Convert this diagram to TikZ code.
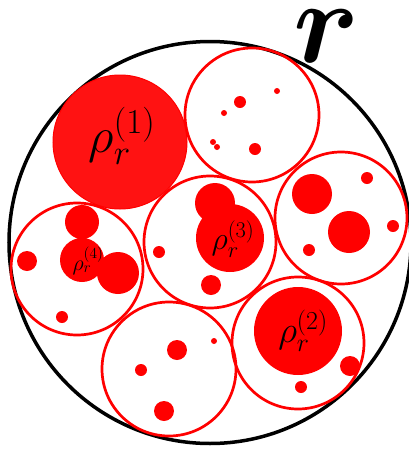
\RequirePackage{fix-cm}
\documentclass[tikz,border=0pt]{standalone}
\usepackage{amsmath,bm}
\tikzset{
  outer/.style={draw=black, line width=3.5pt},
  cell/.style={draw=red, line width=2.7pt},
  blob/.style={fill=red},
  bigblob/.style={fill=red!93, draw=red, line width=1pt},
  rholab/.style={inner sep=0pt, text=black},
}
\begin{document}
\begin{tikzpicture}[x=1pt, y=-1pt]
  \useasboundingbox (0,0) rectangle (409,451);
  % the whole region r
  \draw[outer] (210,242.5) circle (201);
  \node[rholab, font=\fontsize{118}{118}\selectfont] (rlab) at (327,36) {$\bm{r}$};

  % big filled ball
  \draw[bigblob] (120,142) circle (67);
  \node[rholab, font=\fontsize{50}{60}\selectfont] (rho1) at (122,136) {$\rho_r^{(1)}$};

  % top right cell
  \draw[cell] (252,115) circle (67);
  \foreach \x/\y/\s in {240/102/6, 277/91/3, 224/113/3, 213/142/3, 217/147/3, 255/149/6}
    \fill[blob] (\x,\y) circle (\s);

  % centre cell
  \draw[cell] (210,242) circle (66);
  \fill[blob] (230,238) circle (34) (215,203) circle (20);
  \foreach \x/\y/\s in {159/252/6, 211/285/10}
    \fill[blob] (\x,\y) circle (\s);
  \node[rholab, font=\fontsize{32}{38}\selectfont] (rho3) at (233,239) {$\rho_r^{(3)}$};

  % left cell
  \draw[cell] (77,269) circle (66);
  \fill[blob] (82,260) circle (22) (82,222) circle (17) (118,273) circle (21);
  \foreach \x/\y/\s in {27/261/10, 62/317/6}
    \fill[blob] (\x,\y) circle (\s);
  \node[rholab, font=\fontsize{22}{26}\selectfont] (rho4) at (88,261) {$\rho_r^{(4)}$};

  % right cell
  \draw[cell] (341,218) circle (66);
  \foreach \x/\y/\s in {312/194/20, 349/232/21, 367/178/6, 393/226/6, 309/250/6}
    \fill[blob] (\x,\y) circle (\s);

  % bottom right cell
  \draw[cell] (298,343) circle (66);
  \fill[blob] (298,331) circle (44);
  \foreach \x/\y/\s in {350/366/10, 301/387/6}
    \fill[blob] (\x,\y) circle (\s);
  \node[rholab, font=\fontsize{37}{44}\selectfont] (rho2) at (303,331) {$\rho_r^{(2)}$};

  % bottom cell
  \draw[cell] (169,369) circle (67);
  \foreach \x/\y/\s in {177/350/10, 214/341/3, 141/370/6, 164/411/10}
    \fill[blob] (\x,\y) circle (\s);
\end{tikzpicture}
\end{document}
